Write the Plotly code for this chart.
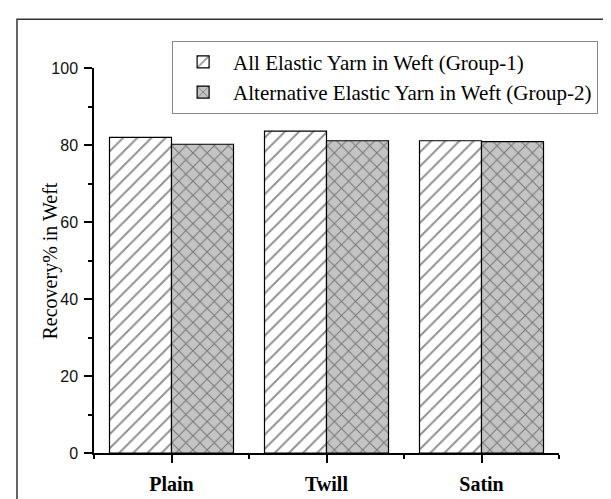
import plotly.graph_objects as go

categories = ["Plain", "Twill", "Satin"]
group1_name = "All Elastic Yarn in Weft (Group-1)"
group2_name = "Alternative Elastic Yarn in Weft (Group-2)"
group1_values = [82.0, 83.6, 81.1]
group2_values = [80.2, 81.1, 80.9]
y_title = "Recovery% in Weft"
y_ticks = [0, 20, 40, 60, 80, 100]

SERIF = "Liberation Serif, Times New Roman, serif"
SANS = "Liberation Sans, Arial, sans-serif"

xpos = list(range(len(categories)))

fig = go.Figure()
fig.add_trace(go.Bar(
    x=xpos, y=group1_values, name=group1_name,
    marker=dict(color="white", line=dict(color="black", width=1.2),
                pattern=dict(shape="/", size=10, solidity=0.2,
                             fgcolor="#222222", bgcolor="white")),
))
fig.add_trace(go.Bar(
    x=xpos, y=group2_values, name=group2_name,
    marker=dict(color="#c4c4c4", line=dict(color="black", width=1.2),
                pattern=dict(shape="x", size=10, solidity=0.2,
                             fgcolor="#2a2a2a", bgcolor="#c4c4c4")),
))

fig.update_layout(
    width=611, height=499,
    margin=dict(l=86, r=60, t=60, b=44),
    paper_bgcolor="white", plot_bgcolor="white",
    barmode="group", bargap=0.2, bargroupgap=0,
    showlegend=True,
    legend=dict(
        x=0.168, y=1.071, xanchor="left", yanchor="top",
        bgcolor="white", bordercolor="#888888", borderwidth=1,
        font=dict(family=SERIF, size=21, color="black"),
        itemwidth=50, traceorder="normal", tracegroupgap=0,
    ),
    font=dict(family=SANS, color="black"),
)

fig.update_xaxes(
    range=[-0.5, 2.5], tickmode="array", tickvals=xpos, ticktext=categories,
    showline=True, linecolor="black", linewidth=1.5, mirror=False,
    showgrid=False, zeroline=False,
    ticks="outside", ticklen=8, tickwidth=1.5, tickcolor="black",
    tickfont=dict(family=SERIF, size=20, color="black", weight="bold"),
    ticklabelstandoff=4,
    minor=dict(tickmode="array", tickvals=[-0.5, 0.5, 1.5, 2.5], ticks="outside",
               ticklen=4, tickwidth=1.5, tickcolor="black", showgrid=False),
)
fig.update_yaxes(
    range=[0, 100], tickmode="array", tickvals=y_ticks,
    showline=True, linecolor="black", linewidth=1.5, mirror=False,
    showgrid=False, zeroline=False,
    ticks="outside", ticklen=8, tickwidth=1.5, tickcolor="black",
    tickfont=dict(family=SANS, size=16, color="#111111"),
    ticklabelstandoff=3,
    minor=dict(dtick=10, tick0=0, ticks="outside", ticklen=4, tickwidth=1.5,
               tickcolor="black", showgrid=False),
)

fig.add_annotation(
    text=y_title, xref="paper", yref="paper", x=-0.0925, y=0.5,
    xanchor="center", yanchor="middle", textangle=-90, showarrow=False,
    font=dict(family=SERIF, size=20, color="black"),
)

# outer frame around the picture (cropped at right and bottom)
fig.add_shape(type="rect", xref="paper", yref="paper",
              x0=-0.1656, y0=-0.3, x1=1.3, y1=1.1266,
              line=dict(color="#333333", width=1.5), layer="below")

fig.write_html("out.html")
